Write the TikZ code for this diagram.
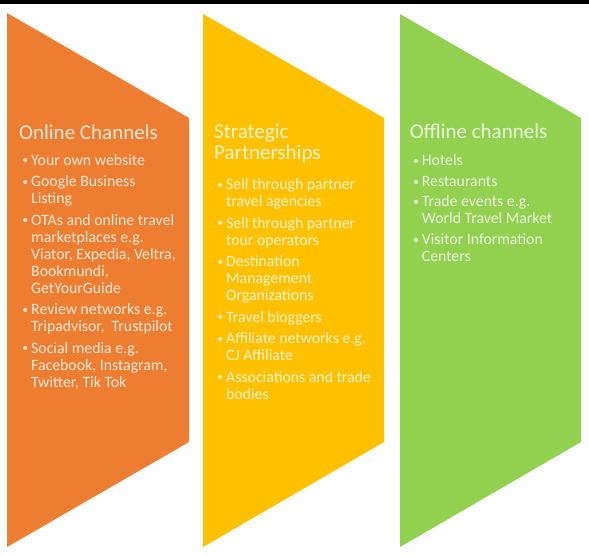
\documentclass[tikz,border=0pt]{standalone}
\usepackage{fontspec}
\setmainfont{Carlito}
\definecolor{corange}{HTML}{ED7D31}
\definecolor{cyellow}{HTML}{FFC000}
\definecolor{cgreen}{HTML}{92D050}
\newcommand\smallbul{\raisebox{1.3pt}{\fontsize{11}{11}\selectfont\textbullet}}
\newcommand\bitem[1]{\par\hangindent=12pt\hangafter=1\noindent\makebox[12pt][l]{\hspace{3.5pt}\smallbul}#1}
\newcommand\igap{\par\vspace{4.5pt}}
\tikzset{
  chev/.style={draw=none},
  ttl/.style={anchor=base west, inner sep=0pt, font=\fontsize{21}{21}\selectfont},
  lst/.style={anchor=base west, inner sep=0pt, font=\fontsize{15.8}{17}\selectfont},
}
\begin{document}
\begin{tikzpicture}[x=1pt,y=-1pt]
\useasboundingbox (0,0) rectangle (589,555);
\fill[white] (0,0) rectangle (589,555);
\fill[black] (0,0) rectangle (589,3.5);
% chevrons
\fill[corange] (7,13) -- (189,118) -- (189,442) -- (7,547) -- cycle;
\fill[cyellow] (203,14) -- (384,118) -- (384,442) -- (203,547) -- cycle;
\fill[cgreen] (400,14) -- (581,118) -- (581,442) -- (400,547) -- cycle;
% orange column
\node[ttl, text=white!82!corange] (t1) at (19,139) {Online Channels};
\node[lst, text=white!82!corange] (l1) at (19,165) {\parbox[t]{168pt}{\raggedright
\bitem{Your own website}\igap
\bitem{Google Business\newline Listing}\igap
\bitem{OTAs and online travel\newline marketplaces e.g.\newline Viator, Expedia, Veltra,\newline Bookmundi,\newline GetYourGuide}\igap
\bitem{Review networks e.g.\newline Tripadvisor,\ \ Trustpilot}\igap
\bitem{Social media e.g.\newline Facebook, Instagram,\newline Twitter, Tik Tok}}};
% yellow column
\node[ttl, text=white!82!cyellow] (t2) at (214,138) {\parbox[t]{168pt}{\raggedright Strategic\newline Partnerships}};
\node[lst, text=white!82!cyellow] (l2) at (214,189.5) {\parbox[t]{168pt}{\raggedright
\bitem{Sell through partner\newline travel agencies}\igap
\bitem{Sell through partner\newline tour operators}\igap
\bitem{Destination\newline Management\newline Organizations}\igap
\bitem{Travel bloggers}\igap
\bitem{Affiliate networks e.g.\newline CJ Affiliate}\igap
\bitem{Associations and trade\newline bodies}}};
% green column
\node[ttl, text=white!82!cgreen] (t3) at (409.7,138.5) {Offline channels};
\node[lst, text=white!82!cgreen] (l3) at (409.7,165.5) {\parbox[t]{168pt}{\raggedright
\bitem{Hotels}\par\vspace{4pt}
\bitem{Restaurants}\par\vspace{3pt}
\bitem{Trade events e.g.\newline World Travel Market}\par\vspace{4pt}
\bitem{Visitor Information\newline Centers}}};
\end{tikzpicture}
\end{document}
